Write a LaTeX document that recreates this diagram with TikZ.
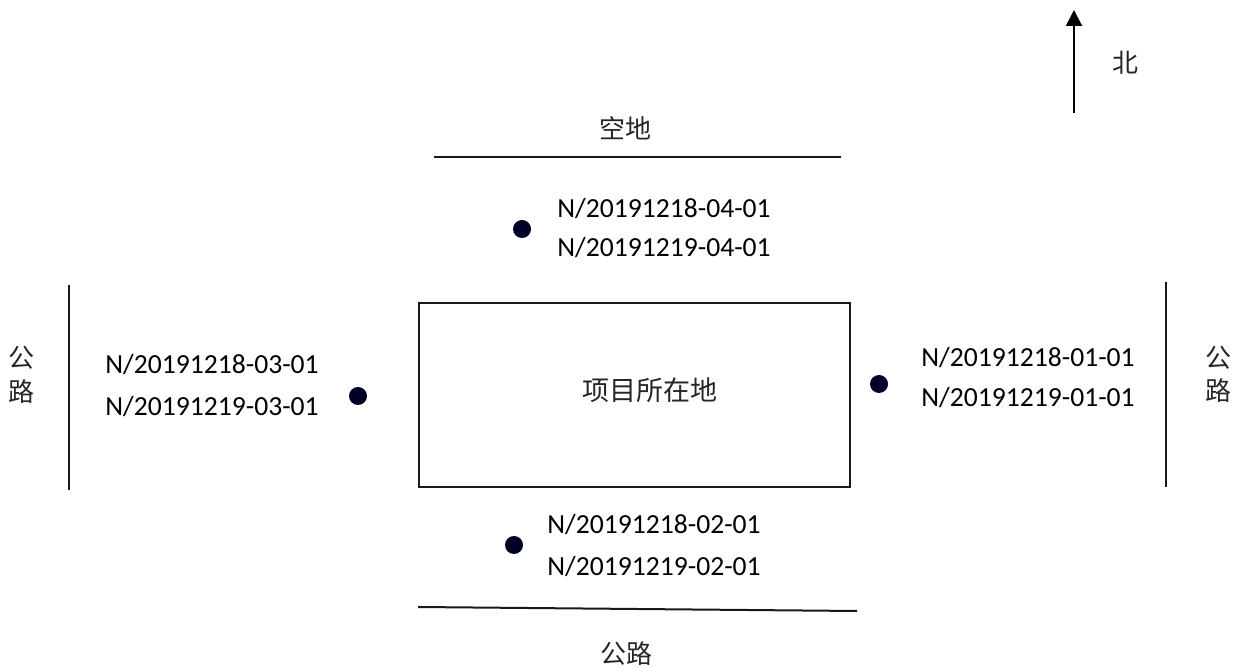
\documentclass[tikz,border=0pt]{standalone}
\usepackage{fontspec}
\setmainfont{Carlito}
\newfontfamily\cjk{Noto Sans CJK SC}
\usetikzlibrary{arrows.meta}
\begin{document}
\begin{tikzpicture}[x=0.5pt,y=-0.5pt,
  lab/.style={font=\fontsize{13.8}{15}\selectfont, anchor=base west, inner sep=0, text=black},
  cn/.style={font=\cjk\fontsize{13}{15}\selectfont, inner sep=0, text=black!85},
  pt/.style={circle, fill=black!85!blue, inner sep=0, minimum size=9pt},
  road/.style={line width=1pt, black!90},
  site/.style={draw=black!90, line width=1.2pt, minimum width=215.5pt, minimum height=92pt, inner sep=0}]
\fill[white] (0,0) rectangle (1242,667);
\useasboundingbox (0,0) rectangle (1242,667);

% north arrow
\coordinate (nS) at (1074,113);
\coordinate (nN) at (1074,10);
\draw[line width=1pt, -{Triangle[length=8pt,width=8pt]}] (nS) -- (nN);
\node[cn] (bei) at (1125,63) {北};

% site
\node[site] (site) at (634.5,395) {};
\node[cn, font=\cjk\fontsize{13.5}{15}\selectfont] (siteT) at (650,390) {项目所在地};

% north side
\node[cn] (kongdi) at (625,128) {空地};
\coordinate (rN1) at (434,157);
\coordinate (rN2) at (841,157);
\draw[road] (rN1) -- (rN2);
\node[pt] (p4) at (522,229) {};
\node[lab] (t4a) at (557,217.5) {N/20191218-04-01};
\node[lab] (t4b) at (557,257) {N/20191219-04-01};

% west side
\node[cn] (gw1) at (22,358) {公};
\node[cn] (gw2) at (22,392) {路};
\coordinate (rW1) at (69,285);
\coordinate (rW2) at (69,490);
\draw[road] (rW1) -- (rW2);
\node[lab] (t3a) at (105,374) {N/20191218-03-01};
\node[lab] (t3b) at (105,416) {N/20191219-03-01};
\node[pt] (p3) at (358,396) {};

% east side
\node[pt] (p1) at (879,384) {};
\node[lab] (t1a) at (921,367) {N/20191218-01-01};
\node[lab] (t1b) at (921,407) {N/20191219-01-01};
\coordinate (rE1) at (1166,282);
\coordinate (rE2) at (1166,487);
\draw[road] (rE1) -- (rE2);
\node[cn] (ge1) at (1218,358) {公};
\node[cn] (ge2) at (1218,391) {路};

% south side
\node[pt] (p2) at (514,545) {};
\node[lab] (t2a) at (547,533.5) {N/20191218-02-01};
\node[lab] (t2b) at (547,575.5) {N/20191219-02-01};
\coordinate (rS1) at (418,607);
\coordinate (rS2) at (857,611);
\draw[road] (rS1) -- (rS2);
\node[cn] (gs) at (626,654) {公路};
\end{tikzpicture}
\end{document}
